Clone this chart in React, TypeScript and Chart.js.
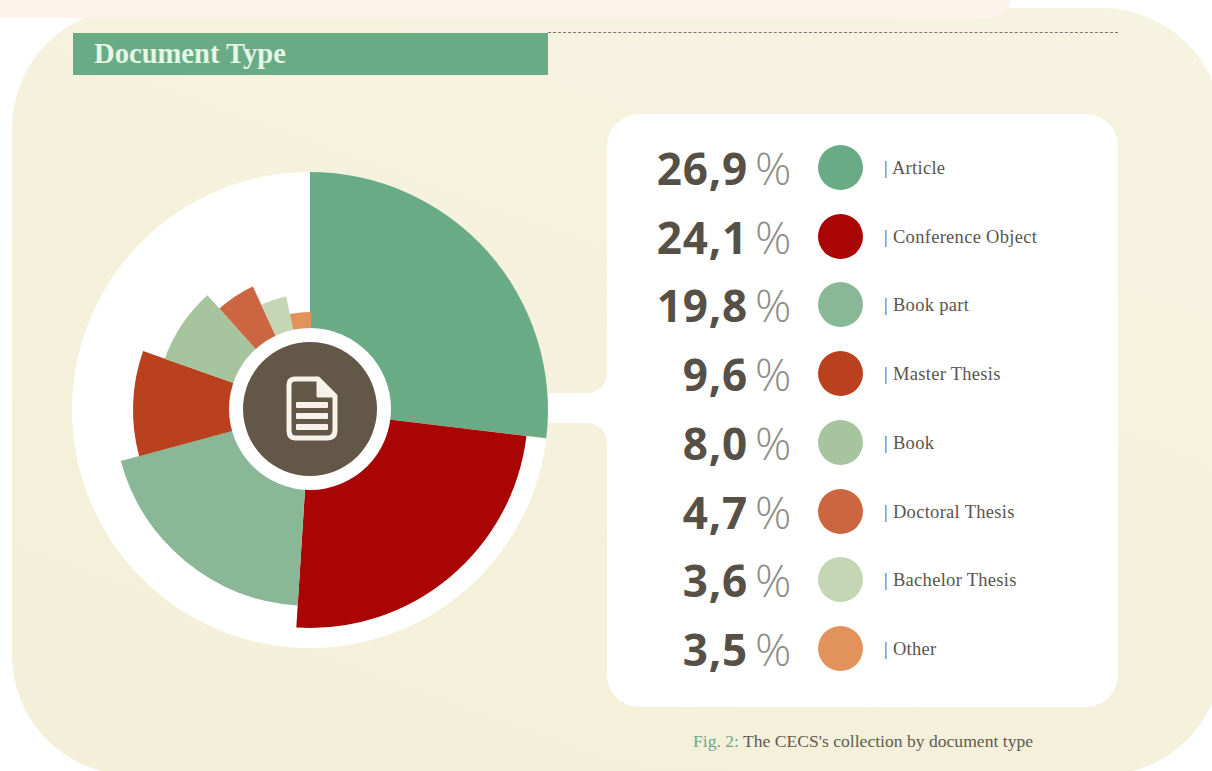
import React, { useEffect, useRef } from "react";
import { Chart, registerables } from "chart.js";

Chart.register(...registerables);

const categories = ["Article", "Conference Object", "Book part", "Master Thesis", "Book", "Doctoral Thesis", "Bachelor Thesis", "Other"];
const shares = [26.9, 24.1, 19.8, 9.6, 8.0, 4.7, 3.6, 3.5];
const shareLabels = ["26,9", "24,1", "19,8", "9,6", "8,0", "4,7", "3,6", "3,5"];
const spokeLengths = [238, 218, 196, 177, 154, 136, 116, 98];
const sliceColors = ["#68AB85", "#A90505", "#8AB897", "#B9411D", "#A6C49D", "#CC6640", "#C5D6B5", "#E1935B"];
const legendColors = ["#68AB85", "#A90505", "#8AB897", "#B9411D", "#A6C49D", "#CC6640", "#C5D6B5", "#E1935B"];

const hubPlugin = {
  id: "hub",
  beforeDatasetsDraw(chart: any) {
    const s = chart.scales.r;
    const c = chart.ctx;
    c.save();
    c.fillStyle = "#FFFFFF";
    c.beginPath();
    c.arc(s.xCenter, s.yCenter, 238, 0, Math.PI * 2);
    c.fill();
    c.restore();
  },
  afterDatasetsDraw(chart: any) {
    const s = chart.scales.r;
    const c = chart.ctx;
    c.save();
    c.fillStyle = "#FFFFFF";
    c.beginPath();
    c.arc(s.xCenter, s.yCenter - 1, 81, 0, Math.PI * 2);
    c.fill();
    c.fillStyle = "#635847";
    c.beginPath();
    c.arc(s.xCenter, s.yCenter - 1, 67, 0, Math.PI * 2);
    c.fill();
    c.restore();
  },
};

export default function App() {
  const ref = useRef<HTMLCanvasElement | null>(null);
  useEffect(() => {
    const chart = new Chart(ref.current as HTMLCanvasElement, {
      type: "polarArea",
      plugins: [hubPlugin],
      data: {
        labels: categories,
        datasets: [
          {
            data: spokeLengths,
            backgroundColor: sliceColors,
            borderWidth: 0,
            angle: (ctx: any) => shares[ctx.dataIndex] * 3.6,
          } as any,
        ],
      },
      options: {
        animation: false,
        responsive: false,
        layout: { padding: 0 },
        plugins: { legend: { display: false }, tooltip: { enabled: false } },
        scales: {
          r: {
            display: false,
            min: 0,
            max: 250,
            ticks: { display: false },
            grid: { display: false },
            angleLines: { display: false },
            pointLabels: { display: false },
          },
        },
      },
    });
    return () => chart.destroy();
  }, []);

  const abs = (o: React.CSSProperties): React.CSSProperties => ({ position: "absolute", ...o });
  const rowY = (i: number) => 168 + i * 68.7;

  return (
    <div style={abs({ position: "fixed", left: 0, top: 0, width: 1212, height: 771, overflow: "hidden", background: "#FFFFFF" })}>
      <div
        style={abs({
          left: 12,
          top: 8,
          width: 1210,
          height: 767,
          borderRadius: 120,
          background: "linear-gradient(200deg, #F5F4E1 0%, #F5F1DC 45%, #F4EFD8 100%)",
        })}
      />
      <div style={abs({ left: 0, top: 0, width: 1010, height: 18, background: "#FDF3EC", borderBottomRightRadius: 22 })} />

      <div style={abs({ left: 73, top: 33, width: 475, height: 42, background: "#68AB85" })} />
      <div
        style={abs({
          left: 94,
          top: 37,
          fontFamily: "'Liberation Serif', serif",
          fontWeight: 700,
          fontSize: 28.6,
          lineHeight: "34px",
          color: "#E4F6E6",
          whiteSpace: "nowrap",
        })}
      >
        Document Type
      </div>
      <div style={abs({ left: 548, top: 32, width: 570, height: 0, borderTop: "1.5px dashed #77766C" })} />

      <svg width={80} height={90} style={abs({ left: 540, top: 364 })}>
        <path d="M0 29 H47 A20 20 0 0 0 67 9 V79 A20 20 0 0 0 47 59 H0 Z" fill="#FFFFFF" />
      </svg>
      <div style={abs({ left: 607, top: 114, width: 511, height: 593, borderRadius: 32, background: "#FFFFFF" })} />

      <canvas ref={ref} width={500} height={500} style={abs({ left: 60, top: 160, width: 500, height: 500 })} />

      <svg width={60} height={74} viewBox="0 0 60 74" style={abs({ left: 282, top: 372 })}>
        <path d="M13 7 H36 L53 24 V58 Q53 66 45 66 H13 Q7 66 7 58 V13 Q7 7 13 7 Z" fill="#635847" stroke="#F7F3EA" strokeWidth={5} strokeLinejoin="round" />
        <path d="M36 7 L53 24 H36 Z" fill="#F7F3EA" stroke="#F7F3EA" strokeWidth={3} strokeLinejoin="round" />
        <rect x={14} y={30} width={32} height={6} rx={1} fill="#F7F3EA" />
        <rect x={14} y={41} width={32} height={6} rx={1} fill="#F7F3EA" />
        <rect x={14} y={52} width={32} height={6} rx={1} fill="#F7F3EA" />
      </svg>

      {categories.map((name, i) => (
        <React.Fragment key={name}>
          <div
            style={abs({
              right: 1212 - 748,
              top: rowY(i) - 30,
              fontFamily: "'Open Sans', sans-serif",
              fontWeight: 700,
              fontSize: 44,
              lineHeight: "60px",
              letterSpacing: 0.8,
              color: "#565046",
              whiteSpace: "nowrap",
            })}
          >
            {shareLabels[i]}
          </div>
          <div
            style={abs({
              left: 755,
              top: rowY(i) - 30,
              fontFamily: "'Open Sans', sans-serif",
              fontWeight: 300,
              fontSize: 45,
              lineHeight: "60px",
              color: "#8F8E8A",
              whiteSpace: "nowrap",
            })}
          >
            %
          </div>
          <div
            style={abs({
              left: 818,
              top: rowY(i) - 23,
              width: 45,
              height: 45,
              borderRadius: "50%",
              background: legendColors[i],
            })}
          />
          <div
            style={abs({
              left: 884,
              top: rowY(i) - 11,
              fontFamily: "'Liberation Serif', serif",
              fontSize: 18.5,
              lineHeight: "22px",
              letterSpacing: 0.3,
              color: "#5A554E",
              whiteSpace: "nowrap",
            })}
          >
            | {name}
          </div>
        </React.Fragment>
      ))}

      <div
        style={abs({
          left: 693,
          top: 731,
          fontFamily: "'Liberation Serif', serif",
          fontSize: 17.6,
          lineHeight: "20px",
          color: "#5F5B52",
          whiteSpace: "nowrap",
        })}
      >
        <span style={{ color: "#6FA98A" }}>Fig. 2:</span> The CECS's collection by document type
      </div>
    </div>
  );
}
